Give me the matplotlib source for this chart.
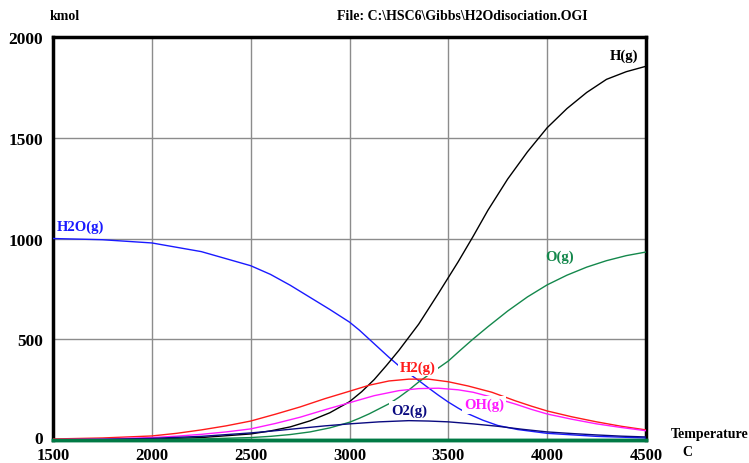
import matplotlib
matplotlib.use("Agg")
import matplotlib.pyplot as plt
from matplotlib.transforms import ScaledTranslation

# ---- data (kmol vs temperature, C) ----
T_h2o = [1500, 1750, 2000, 2250, 2500, 2600, 2700, 2800, 2900, 3000, 3050, 3100, 3150, 3200, 3250, 3300,
         3350, 3400, 3450, 3500, 3550, 3600, 3675, 3750, 3850, 4000, 4250, 4500]
h2o   = [1000, 994, 978, 935, 865, 822, 768, 708, 648, 585, 545, 500, 455, 410, 368, 330,
         295, 258, 222, 188, 158, 130, 98, 72, 52, 33, 18, 10]

T_h = [1500, 1750, 2000, 2250, 2500, 2600, 2700, 2800, 2900, 3000, 3062, 3125, 3187, 3250, 3350, 3450,
       3550, 3625, 3700, 3800, 3900, 4000, 4100, 4200, 4300, 4400, 4500]
h   = [0, 1, 4, 12, 30, 45, 65, 95, 135, 190, 240, 300, 370, 445, 575, 728,
       885, 1010, 1140, 1295, 1430, 1550, 1645, 1725, 1790, 1828, 1855]

T_o = [1500, 1750, 2000, 2250, 2500, 2600, 2700, 2800, 2900, 3000, 3050, 3100, 3150, 3200, 3250, 3300,
       3350, 3420, 3500, 3560, 3625, 3700, 3800, 3900, 4000, 4100, 4200, 4300, 4400, 4500]
o   = [0, 0, 2, 5, 12, 18, 27, 40, 60, 88, 108, 130, 155, 180, 212, 248,
       288, 337, 392, 445, 501, 562, 640, 710, 770, 818, 858, 890, 915, 933]

T_h2 = [1500, 1750, 2000, 2125, 2250, 2375, 2500, 2625, 2750, 2875, 3000, 3100, 3200, 3300, 3400, 3500,
        3600, 3720, 3840, 3920, 4000, 4125, 4250, 4375, 4500]
h2   = [5, 10, 20, 33, 50, 70, 94, 128, 164, 205, 242, 272, 293, 302, 302, 289,
        268, 237, 194, 168, 144, 115, 90, 68, 50]

T_oh = [1500, 1750, 2000, 2125, 2250, 2375, 2500, 2625, 2750, 2875, 3000, 3125, 3250, 3350, 3450, 3550,
        3625, 3730, 3840, 3920, 4000, 4125, 4250, 4375, 4500]
oh   = [2, 5, 12, 19, 28, 40, 55, 82, 113, 150, 185, 220, 245, 255, 257, 249,
        237, 210, 178, 152, 129, 103, 80, 62, 46]

T_o2 = [1500, 1750, 2000, 2250, 2500, 2625, 2750, 2875, 3000, 3150, 3300, 3400, 3500, 3625, 3750, 3875,
        4000, 4125, 4250, 4375, 4500]
o2   = [1, 3, 8, 18, 35, 46, 58, 70, 80, 90, 96, 94, 90, 80, 68, 53,
        40, 32, 25, 19, 15]

T_zero = [1500, 4500]
zero   = [0, 0]

x_ticks = [1500, 2000, 2500, 3000, 3500, 4000, 4500]
y_ticks = [0, 500, 1000, 1500, 2000]

plt.rcParams['font.family'] = ['Liberation Serif', 'DejaVu Serif']
plt.rcParams['font.weight'] = 'bold'

fig = plt.figure(figsize=(7.49, 4.64), dpi=100)
ax = fig.add_axes([0.0708, 0.0496, 0.8625 - 0.0708, 0.918 - 0.0496])

ax.set_xlim(1500, 4500)
ax.set_ylim(0, 2000)
ax.set_xticks(x_ticks)
ax.set_yticks(y_ticks)
ax.set_xticklabels([str(v) for v in x_ticks], fontsize=12, fontweight='bold')
ax.set_yticklabels([str(v) for v in y_ticks], fontsize=12.5, fontweight='bold')
ax.tick_params(axis='y', length=0, pad=7)
ax.tick_params(axis='x', length=0, pad=5)
ax.grid(True, color='#8c8c8c', linewidth=1.0)
ax.set_axisbelow(True)

# nudge the "0" label up slightly so it clears "1500"
zero_lab = ax.get_yticklabels()[0]
zero_lab.set_transform(zero_lab.get_transform() + ScaledTranslation(0, 2.5 / 100, fig.dpi_scale_trans))

for side in ['left', 'top', 'right']:
    ax.spines[side].set_linewidth(2.5)
    ax.spines[side].set_color('black')
ax.spines['bottom'].set_linewidth(2.5)
ax.spines['bottom'].set_color('#007a45')

lw = 1.0
ax.plot(T_h2o, h2o, color='#1a1aff', lw=lw, zorder=3)
ax.plot(T_h, h, color='black', lw=lw, zorder=3)
ax.plot(T_o, o, color='#14884c', lw=lw, zorder=3)
ax.plot(T_h2, h2, color='#ff1a1a', lw=lw, zorder=3)
ax.plot(T_oh, oh, color='#ff1aff', lw=lw, zorder=3)
ax.plot(T_o2, o2, color='#0a0a80', lw=lw, zorder=3)
ax.plot(T_zero, zero, color='#007a45', lw=2.5, zorder=4, clip_on=False)

bb = dict(facecolor='white', edgecolor='none', pad=1.5)
lab_kw = dict(fontsize=10.5, fontweight='bold', zorder=5)
ax.text(4318, 1910, 'H(g)', color='black', ha='left', va='center', **lab_kw)
ax.text(1520, 1060, 'H2O(g)', color='#1a1aff', ha='left', va='center', **lab_kw)
ax.text(3990, 910, 'O(g)', color='#14884c', ha='left', va='center', **lab_kw)
ax.text(3255, 363, 'H2(g)', color='#ff1a1a', ha='left', va='center', bbox=bb, **lab_kw)
ax.text(3580, 175, 'OH(g)', color='#ff1aff', ha='left', va='center', bbox=bb, **lab_kw)
ax.text(3210, 150, 'O2(g)', color='#0a0a80', ha='left', va='center', bbox=bb, **lab_kw)

fig.text(50 / 749, 1 - 17 / 464, 'kmol', fontsize=10, fontweight='bold', ha='left', va='center')
fig.text(462 / 749, 1 - 17 / 464, r'File: C:\HSC6\Gibbs\H2Odisociation.OGI', fontsize=10,
         fontweight='bold', ha='center', va='center')
fig.text(671 / 749, 1 - 435 / 464, 'Temperature', fontsize=10, fontweight='bold', ha='left', va='center')
fig.text(682 / 749, 1 - 453 / 464, 'C', fontsize=10, fontweight='bold', ha='left', va='center')

fig.savefig('out.png', dpi=100)
